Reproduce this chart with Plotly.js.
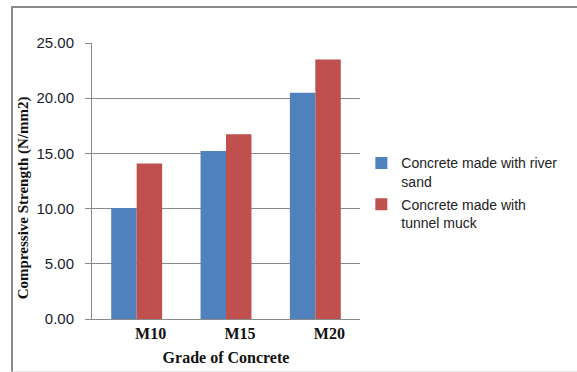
<!DOCTYPE html>
<html>
<head>
<meta charset="utf-8">
<script src="https://cdn.plot.ly/plotly-3.0.1.min.js"></script>
<style>
  html, body { margin:0; padding:0; background:#fff; }
  #frame { position:absolute; left:11px; top:6px; width:566px; height:366px;
           border-top:2px solid #8a8a8a; border-left:2px solid #8a8a8a;
           border-bottom:1px solid #e4e4e4; box-sizing:border-box; }
  #chart { position:absolute; left:0; top:0; width:577px; height:372px; }
</style>
</head>
<body>
<div id="frame"></div>
<div id="chart"></div>
<script>
const categories = ["M10", "M15", "M20"];
const riverSand = [10.05, 15.22, 20.50];
const tunnelMuck = [14.08, 16.73, 23.50];
const seriesNames = ["Concrete made with river<br>sand", "Concrete made with<br>tunnel muck"];
const yTickVals = [0, 5, 10, 15, 20, 25];
const yTickText = ["0.00", "5.00", "10.00", "15.00", "20.00", "25.00"];

const traces = [
  { type: "bar", x: categories, y: riverSand, name: seriesNames[0], legendgroup: "a",
    marker: { color: "#4F81BD" } },
  { type: "bar", x: categories, y: tunnelMuck, name: seriesNames[1], legendgroup: "b",
    marker: { color: "#C0504D" } }
];

const pad = "&nbsp;".repeat(9);

const layout = {
  width: 577, height: 372,
  paper_bgcolor: "rgba(0,0,0,0)", plot_bgcolor: "rgba(0,0,0,0)",
  margin: { l: 92, r: 217, t: 43, b: 53 },
  barmode: "group", bargap: 0.43, bargroupgap: 0,
  showlegend: true,
  legend: { x: 1.005, xanchor: "left", y: 0.622, yanchor: "top", valign: "top",
            font: { family: "Liberation Sans, Arial, sans-serif", size: 14, color: "#222" },
            itemwidth: 30, tracegroupgap: 2, bgcolor: "rgba(0,0,0,0)" },
  xaxis: {
    type: "category",
    showline: true, linecolor: "#8a8a8a", linewidth: 1,
    showgrid: false, ticks: "", ticklabelshift: 14,
    tickfont: { family: "Liberation Serif, Times New Roman, serif", size: 16, color: "#111", weight: "bold" },
    title: { text: "<b>Grade of Concrete</b>", standoff: 10,
             font: { family: "Liberation Serif, Times New Roman, serif", size: 16, color: "#111" } },
    automargin: false
  },
  yaxis: {
    range: [0, 25], tickvals: yTickVals, ticktext: yTickText,
    showline: true, linecolor: "#8a8a8a", linewidth: 1,
    showgrid: true, gridcolor: "#8a8a8a", gridwidth: 1,
    ticks: "outside", ticklen: 6, tickcolor: "#8a8a8a",
    ticklabelstandoff: 8,
    tickfont: { family: "Liberation Sans, Arial, sans-serif", size: 15, color: "#1a1a2e" },
    title: { text: "<b>Compressive Strength (N/mm2)</b>" + pad, standoff: 4,
             font: { family: "Liberation Serif, Times New Roman, serif", size: 15, color: "#111" } },
    zeroline: false, automargin: false
  }
};

Plotly.newPlot("chart", traces, layout, { displayModeBar: false, staticPlot: true });
</script>
</body>
</html>
